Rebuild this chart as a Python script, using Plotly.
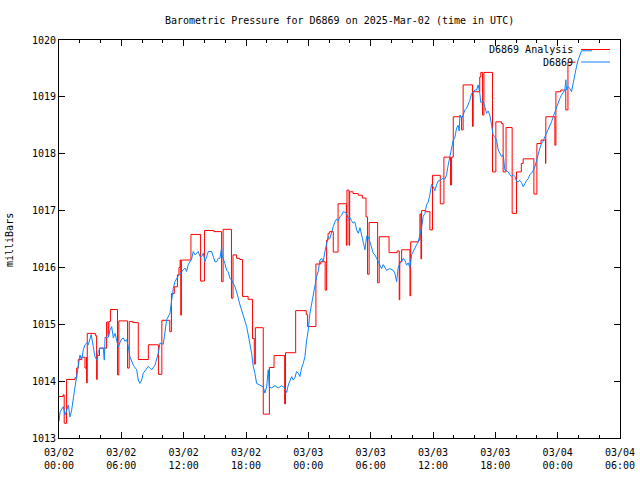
import pandas as pd
import plotly.graph_objects as go

# ---- data (hours after 2025-03-02 00:00 UTC, pressure in mbar) ----
blue_hours = [0.0, 0.1, 0.41, 0.58, 0.9, 1.06, 1.22, 1.38, 1.54, 1.7, 1.86, 2.02, 2.18, 2.34, 2.5, 2.67, 2.82,
              3.1, 3.3, 3.46, 3.63, 3.78, 3.95, 4.26, 4.36, 4.43, 4.74, 4.91, 5.07, 5.23, 5.39, 5.55, 5.71,
              5.87, 6.03, 6.19, 6.35, 6.51, 6.67, 6.83, 7.15, 7.48, 7.63, 7.79, 7.96, 8.11, 8.44, 8.59, 8.92,
              9.24, 9.56, 9.72, 10.04, 10.2, 10.36, 10.68, 10.84, 11.0, 11.16, 11.33, 11.48, 11.64, 11.8,
              11.96, 12.12, 12.28, 12.44, 12.61, 12.77, 12.92, 13.09, 13.4, 13.57, 13.73, 13.89, 14.05,
              14.21, 14.37, 14.69, 14.85, 15.01, 15.18, 15.33, 15.49, 15.66, 15.71, 15.81, 15.97, 16.14,
              16.29, 16.45, 16.62, 16.77, 16.94, 17.1, 17.25, 17.42, 17.58, 17.73, 17.9, 18.06, 18.22,
              18.38, 18.54, 18.7, 18.86, 19.02, 19.34, 19.66, 19.82, 19.99, 20.14, 20.24, 20.47, 20.79,
              21.1, 21.43, 21.75, 21.91, 22.07, 22.23, 22.39, 22.55, 22.71, 22.87, 23.03, 23.19, 23.35,
              23.51, 23.67, 23.84, 23.99, 24.15, 24.32, 24.47, 24.63, 24.8, 24.95, 25.12, 25.28, 25.43,
              25.6, 25.76, 25.91, 26.08, 26.24, 26.4, 26.56, 26.72, 26.88, 27.04, 27.2, 27.36, 27.52,
              27.68, 27.84, 28.0, 28.17, 28.32, 28.48, 28.65, 28.81, 28.97, 29.13, 29.29, 29.45, 29.61,
              29.77, 29.93, 30.09, 30.25, 30.41, 30.57, 30.73, 30.89, 31.05, 31.21, 31.37, 31.53, 31.85,
              32.17, 32.33, 32.5, 32.65, 32.81, 32.98, 33.14, 33.3, 33.46, 33.61, 33.77, 33.94, 34.1,
              34.26, 34.42, 34.58, 34.74, 34.9, 35.06, 35.22, 35.38, 35.54, 35.7, 35.86, 36.02, 36.18,
              36.34, 36.5, 36.66, 36.83, 36.98, 37.14, 37.31, 37.46, 37.63, 37.79, 37.95, 38.1, 38.27,
              38.42, 38.52, 38.59, 38.75, 38.91, 39.07, 39.23, 39.38, 39.55, 39.71, 39.87, 40.03, 40.19,
              40.35, 40.51, 40.6, 40.83, 40.99, 41.15, 41.31, 41.47, 41.64, 41.79, 41.95, 42.12, 42.27,
              42.44, 42.6, 42.76, 42.92, 43.08, 43.24, 43.4, 43.56, 43.72, 43.89, 44.05, 44.2, 44.37,
              44.53, 44.68, 44.85, 45.01, 45.16, 45.32, 45.48, 45.64, 45.81, 45.97, 46.12, 46.29, 46.45,
              46.6, 46.77, 46.93, 47.09, 47.25, 47.41, 47.57, 47.73, 47.89, 48.05, 48.21, 48.37, 48.53,
              48.69, 48.79, 48.85, 49.0, 49.17, 49.33, 49.48, 49.65, 49.81, 49.97, 50.13, 50.3, 51.32]
blue_mbar = [1013.29, 1013.46, 1013.55, 1013.40, 1013.58, 1013.37, 1013.49, 1013.73, 1013.90, 1014.08, 1014.31,
             1014.46, 1014.37, 1014.55, 1014.64, 1014.67, 1014.64, 1014.82, 1014.61, 1014.43, 1014.37,
             1014.52, 1014.58, 1014.58, 1014.37, 1014.77, 1014.77, 1014.90, 1014.96, 1014.76, 1014.84,
             1014.72, 1014.60, 1014.68, 1014.74, 1014.76, 1014.70, 1014.73, 1014.61, 1014.43, 1014.28,
             1014.20, 1014.02, 1013.96, 1014.02, 1014.14, 1014.23, 1014.26, 1014.20, 1014.28, 1014.49,
             1014.67, 1014.65, 1014.84, 1015.08, 1015.19, 1015.43, 1015.63, 1015.75, 1015.82, 1015.85,
             1015.88, 1015.93, 1015.96, 1015.99, 1015.93, 1016.05, 1016.10, 1016.15, 1016.28, 1016.22,
             1016.28, 1016.19, 1016.19, 1016.25, 1016.10, 1016.20, 1016.28, 1016.28, 1016.19, 1016.10,
             1016.10, 1016.16, 1016.16, 1016.36, 1016.20, 1016.16, 1016.07, 1015.95, 1015.92, 1015.81,
             1015.78, 1015.72, 1015.66, 1015.57, 1015.43, 1015.34, 1015.25, 1015.16, 1015.05, 1014.96,
             1014.81, 1014.67, 1014.49, 1014.26, 1014.14, 1013.96, 1013.93, 1013.90, 1013.79, 1013.90,
             1014.20, 1013.90, 1013.88, 1013.92, 1013.88, 1013.92, 1013.88, 1013.80, 1013.93, 1014.02,
             1014.08, 1014.02, 1014.06, 1014.17, 1014.14, 1014.08, 1014.23, 1014.31, 1014.43, 1014.72,
             1014.90, 1015.19, 1015.37, 1015.54, 1015.72, 1015.84, 1015.93, 1016.13, 1016.16, 1016.10,
             1016.28, 1016.45, 1016.54, 1016.51, 1016.63, 1016.72, 1016.80, 1016.85, 1016.82, 1016.89,
             1016.92, 1016.98, 1016.97, 1016.95, 1016.86, 1016.88, 1016.82, 1016.78, 1016.80, 1016.66,
             1016.60, 1016.70, 1016.57, 1016.45, 1016.31, 1016.55, 1016.54, 1016.45, 1016.36, 1016.25,
             1016.22, 1016.16, 1016.12, 1016.04, 1015.98, 1016.05, 1016.00, 1015.95, 1015.98, 1015.95,
             1015.90, 1015.75, 1016.00, 1016.07, 1016.10, 1016.16, 1016.12, 1016.04, 1016.08, 1016.00,
             1016.22, 1016.28, 1016.36, 1016.40, 1016.45, 1016.58, 1016.70, 1016.90, 1016.95, 1017.10,
             1017.15, 1017.28, 1017.46, 1017.42, 1017.35, 1017.45, 1017.52, 1017.53, 1017.55, 1017.57,
             1017.55, 1017.63, 1017.80, 1017.95, 1018.12, 1018.24, 1018.28, 1018.45, 1018.50, 1018.40,
             1018.68, 1018.62, 1018.68, 1018.77, 1018.80, 1018.86, 1018.94, 1019.06, 1019.08, 1019.12,
             1019.12, 1019.21, 1019.06, 1018.90, 1018.92, 1018.83, 1018.71, 1018.75, 1018.68, 1018.50,
             1018.33, 1018.30, 1018.24, 1018.07, 1018.02, 1017.95, 1017.98, 1017.71, 1017.70, 1017.68,
             1017.63, 1017.60, 1017.63, 1017.60, 1017.51, 1017.51, 1017.53, 1017.49, 1017.42, 1017.49,
             1017.53, 1017.56, 1017.63, 1017.66, 1017.70, 1017.77, 1017.89, 1017.98, 1018.10, 1018.18,
             1018.22, 1018.30, 1018.36, 1018.42, 1018.48, 1018.56, 1018.65, 1018.74, 1018.83, 1018.89,
             1018.97, 1019.03, 1019.09, 1019.12, 1019.30, 1019.12, 1019.18, 1019.15, 1019.09, 1019.24,
             1019.35, 1019.53, 1019.65, 1019.74, 1019.81, 1019.81]

red_hours = [0.0, 0.4, 0.5, 0.73, 1.54, 1.7, 1.86, 2.15, 2.5, 2.64, 2.66, 2.72, 3.5, 3.62, 3.68, 3.9, 4.58,
             4.72, 4.8, 4.95, 5.63, 5.76, 6.6, 6.76, 7.1, 7.63, 8.6, 9.57, 9.9, 10.66, 10.82, 11.1, 11.4,
             11.55, 11.66, 11.72, 11.78, 12.7, 13.63, 14.0, 14.9, 15.65, 15.8, 16.6, 16.75, 17.1, 17.4,
             17.67, 18.2, 18.63, 18.8, 18.9, 19.66, 20.25, 20.7, 21.72, 21.8, 22.78, 23.8, 23.93, 24.73,
             25.2, 25.62, 25.76, 25.9, 26.05, 26.4, 26.86, 27.66, 27.72, 27.92, 27.98, 28.3, 28.8, 29.2,
             29.55, 29.7, 29.85, 30.67, 30.82, 31.77, 32.55, 32.75, 32.8, 32.98, 33.78, 33.85, 34.6,
             34.74, 34.84, 34.9, 35.3, 35.7, 35.95, 36.7, 37.05, 37.69, 37.79, 37.95, 38.75, 38.9, 39.8,
             39.87, 40.5, 40.6, 40.77, 40.9, 41.73, 42.05, 42.6, 42.75, 43.03, 43.62, 44.04, 44.5, 44.68,
             45.71, 46.0, 46.4, 46.83, 46.86, 47.73, 47.83, 48.3, 48.78, 48.99, 49.72]
red_mbar = [1013.73, 1013.76, 1013.26, 1014.03, 1014.06, 1014.23, 1014.38, 1014.42, 1014.23, 1014.42, 1013.97,
            1014.84, 1014.80, 1014.03, 1014.45, 1014.58, 1015.04, 1014.80, 1015.05, 1015.26, 1014.11,
            1015.06, 1014.23, 1015.05, 1015.03, 1014.38, 1014.64, 1014.12, 1015.07, 1014.87, 1015.54,
            1015.66, 1015.87, 1016.00, 1016.13, 1015.16, 1016.13, 1016.58, 1015.76, 1016.65, 1016.63,
            1015.75, 1016.67, 1015.46, 1016.22, 1016.16, 1016.14, 1015.49, 1015.44, 1014.75, 1014.30,
            1014.94, 1013.42, 1014.24, 1014.45, 1013.60, 1014.50, 1015.24, 1015.17, 1014.96, 1016.06,
            1016.10, 1015.60, 1016.48, 1016.60, 1016.63, 1016.27, 1017.12, 1016.39, 1017.36, 1016.39,
            1017.33, 1017.30, 1017.27, 1017.22, 1016.89, 1015.88, 1016.79, 1015.73, 1016.54, 1016.26,
            1016.29, 1015.43, 1016.10, 1016.31, 1015.50, 1016.45, 1016.48, 1016.94, 1016.15, 1017.00,
            1016.98, 1016.66, 1017.62, 1017.12, 1017.94, 1017.45, 1017.94, 1018.65, 1018.42, 1019.21,
            1018.48, 1019.09, 1019.35, 1019.43, 1018.68, 1019.43, 1017.68, 1018.56, 1018.53, 1017.68,
            1018.46, 1016.95, 1017.68, 1017.83, 1017.91, 1017.29, 1018.18, 1018.24, 1017.83, 1018.65,
            1018.15, 1019.09, 1019.12, 1018.77, 1019.61, 1019.61]

tick_hours = [0, 6, 12, 18, 24, 30, 36, 42, 48, 54]
tick_labels = ["03/02<br>00:00", "03/02<br>06:00", "03/02<br>12:00", "03/02<br>18:00",
               "03/03<br>00:00", "03/03<br>06:00", "03/03<br>12:00", "03/03<br>18:00",
               "03/04<br>00:00", "03/04<br>06:00"]
y_ticks = [1013, 1014, 1015, 1016, 1017, 1018, 1019, 1020]

base = pd.Timestamp("2025-03-02 00:00")
to_dt = lambda hs: [base + pd.Timedelta(hours=h) for h in hs]

RED = "#ff0000"
BLUE = "#0a84ff"
FONT = "DejaVu Sans Mono"
FS = 10

fig = go.Figure()
fig.add_trace(go.Scatter(x=to_dt(red_hours), y=red_mbar, mode="lines", line_shape="hv",
                         line=dict(color=RED, width=1), name="D6869 Analysis", showlegend=False))
fig.add_trace(go.Scatter(x=to_dt(blue_hours), y=blue_mbar, mode="lines",
                         line=dict(color=BLUE, width=1), name="D6869", showlegend=False))

L, R, T, B = 59, 20, 40, 42
W, H = 640, 480
pw, ph = W - L - R, H - T - B
px = lambda X: (X - L) / pw
py = lambda Y: (H - B - Y) / ph

# gnuplot-style key: right-aligned text with sample line to its right
for label, color, Y in [("D6869 Analysis", RED, 49.5), ("D6869", BLUE, 62)]:
    fig.add_annotation(x=px(575), y=py(Y), xref="paper", yref="paper", text=label, showarrow=False,
                       xanchor="right", yanchor="middle", font=dict(family=FONT, size=FS, color="black"))
    fig.add_shape(type="line", xref="paper", yref="paper", x0=px(581), x1=px(610), y0=py(Y), y1=py(Y),
                  line=dict(color=color, width=1))

fig.add_annotation(x=0.5, y=py(20), xref="paper", yref="paper", showarrow=False,
                   text="Barometric Pressure for D6869 on 2025-Mar-02 (time in UTC)",
                   xanchor="center", yanchor="middle", font=dict(family=FONT, size=FS, color="black"))
fig.add_annotation(x=px(10), y=py(240), xref="paper", yref="paper", showarrow=False, text="milliBars",
                   textangle=-90, xanchor="center", yanchor="middle",
                   font=dict(family=FONT, size=FS, color="black"))

fig.update_layout(
    width=W, height=H, margin=dict(l=L, r=R, t=T, b=B, autoexpand=False),
    paper_bgcolor="white", plot_bgcolor="white",
    font=dict(family=FONT, size=FS, color="black"),
    showlegend=False,
)
fig.update_xaxes(type="date", range=[base, base + pd.Timedelta(hours=54)], automargin=False,
                 tickvals=to_dt(tick_hours), ticktext=tick_labels, ticklabelstandoff=5,
                 ticks="inside", ticklen=6, tickcolor="black", mirror="allticks",
                 showline=True, linecolor="black", linewidth=1, showgrid=False, zeroline=False,
                 minor=dict(dtick=2 * 3600 * 1000, ticks="inside", ticklen=3, tickcolor="black", showgrid=False),
                 tickfont=dict(family=FONT, size=FS))
fig.update_yaxes(range=[1013, 1020], tickvals=y_ticks, ticks="inside", ticklen=6, tickcolor="black",
                 automargin=False, mirror="allticks", showline=True, linecolor="black", linewidth=1,
                 showgrid=False, zeroline=False, tickfont=dict(family=FONT, size=FS))

fig.write_html("out.html", config={"displayModeBar": False, "staticPlot": True},
               post_script="document.body.style.margin='0';document.body.style.overflow='hidden';")
